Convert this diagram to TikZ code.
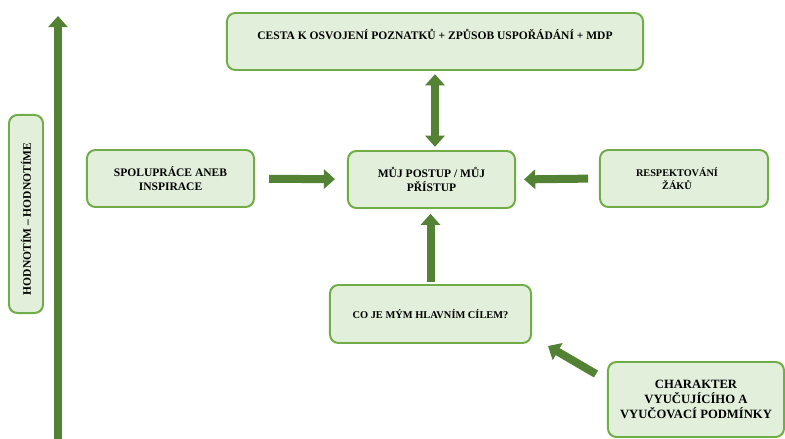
\documentclass[tikz,border=0pt]{standalone}
\usepackage{fontspec}
\setmainfont{Liberation Serif}
\usepackage{tikz}
\usetikzlibrary{positioning, arrows.meta}

\definecolor{boxline}{RGB}{112,173,71}
\definecolor{boxfill}{RGB}{226,239,218}
\definecolor{arrowgreen}{RGB}{84,130,53}

\tikzset{
    box/.style={draw=boxline, fill=boxfill, line width=1.4pt, rounded corners=6pt,
        align=center, font=\fontsize{8.2}{9.8}\selectfont\bfseries, inner sep=2pt},
    bigarrow/.style={draw=arrowgreen, line width=0.2cm,
        -{Triangle[width=0.48cm, length=0.28cm]}},
    dblarrow/.style={draw=arrowgreen, line width=0.2cm,
        {Triangle[width=0.48cm, length=0.28cm]}-{Triangle[width=0.48cm, length=0.28cm]}}
}

\begin{document}
\begin{tikzpicture}[x=0.025cm, y=-0.025cm]
            \useasboundingbox (0, 0) rectangle (785, 439);

            \node[box, minimum width=10.4cm, minimum height=1.425cm] (cesta) at (435, 41.5) {CESTA K OSVOJENÍ POZNATKŮ + ZPŮSOB USPOŘÁDÁNÍ + MDP\\ \mbox{}};
            \node[box, minimum width=4.175cm, minimum height=1.425cm] (spolu) at (170.5, 178.5) {SPOLUPRÁCE ANEB\\INSPIRACE};
            \node[box, minimum width=4.175cm, minimum height=1.425cm] (postup) at (431.5, 179.5) {MŮJ POSTUP / MŮJ\\PŘÍSTUP};
            \node[box, minimum width=4.2cm, minimum height=1.425cm, font=\fontsize{7.3}{8.8}\selectfont\bfseries] (respekt) at (684, 178.5) {RESPEKTOVÁNÍ\hspace*{0pt}\kern0.35cm\\ŽÁKŮ\hspace*{0pt}\kern0.35cm};
            \node[box, rotate=90, minimum width=4.95cm, minimum height=0.85cm] (hodnot) at (26, 214) {HODNOTÍM – HODNOTÍME\hspace*{0pt}\kern0.25cm};
            \node[box, minimum width=5.025cm, minimum height=1.45cm, font=\fontsize{7.4}{8.9}\selectfont\bfseries] (cil) at (430.5, 314) {CO JE MÝM HLAVNÍM CÍLEM?};
            \node[box, minimum width=4.4cm, minimum height=1.875cm, font=\fontsize{9}{10.4}\selectfont\bfseries] (charakter) at (696, 399.5) {CHARAKTER\\VYUČUJÍCÍHO A\\VYUČOVACÍ PODMÍNKY};

            % osa vlevo
            \coordinate (osa dole) at (58, 439);
            \coordinate (osa nahore) at (58, 16);
            \draw[bigarrow] (osa dole) -- (osa nahore);

            \draw[bigarrow, shorten <=0.35cm, shorten >=0.3cm] (spolu) -- (postup);
            \draw[bigarrow, shorten <=0.27cm, shorten >=0.2cm] (respekt.west) -- (postup.east);
            \draw[dblarrow, shorten <=0.08cm, shorten >=0.08cm] (cesta.south) -- (cesta.south |- postup.north);
            \draw[bigarrow, shorten <=0.05cm, shorten >=0.12cm] (cil.north) -- (cil.north |- postup.south);
            \draw[bigarrow] ([shift={(-11,13)}]charakter.north west) -- ([shift={(16,2)}]cil.south east);
        \end{tikzpicture}
\end{document}
